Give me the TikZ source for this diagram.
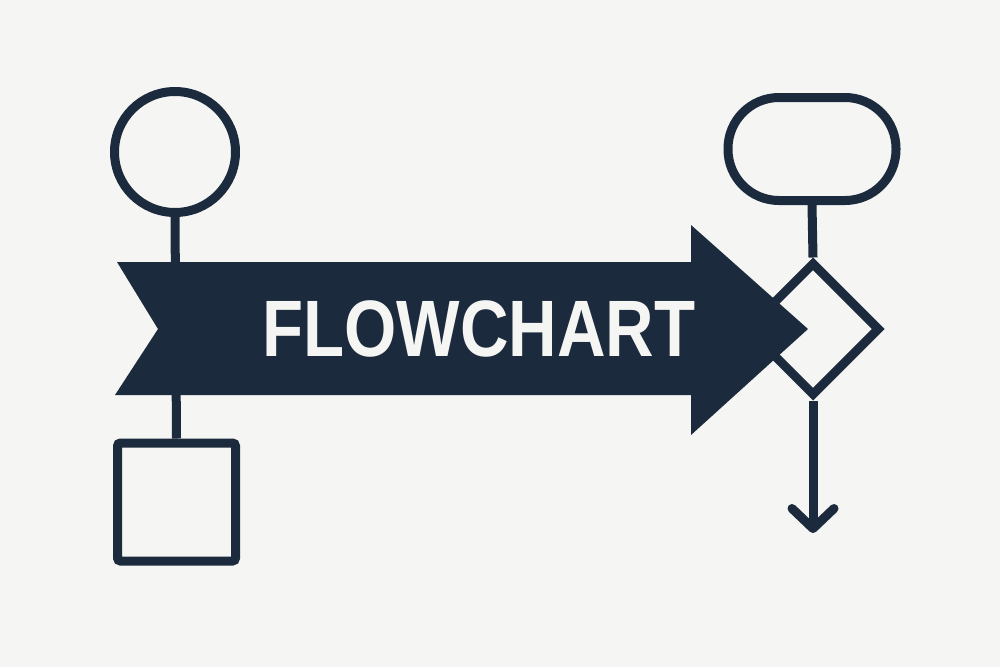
\documentclass[tikz,border=0pt]{standalone}
\usepackage{fontspec}
\setmainfont{Liberation Sans}
\usetikzlibrary{shapes.geometric,arrows.meta}
\definecolor{navy}{HTML}{1B2A3C}
\definecolor{paper}{HTML}{F5F5F3}
\begin{document}
\begin{tikzpicture}[x=1pt,y=-1pt,
  outline/.style={draw=navy,line width=9pt,fill=paper,inner sep=0pt},
  stem/.style={draw=navy,line width=9pt},
  banner/.style={fill=navy},
  title/.style={text=paper,inner sep=0pt,font=\fontsize{80}{80}\selectfont\bfseries}]
\fill[paper] (0,0) rectangle (1000,667);
\useasboundingbox (0,0) rectangle (1000,667);
% nodes
\node[outline,circle,minimum size=121pt] (circ) at (175,152) {};
\node[outline,rectangle,rounded corners=3pt,minimum size=118pt] (sq) at (176.5,502) {};
\node[outline,rectangle,rounded corners=51pt,minimum width=168pt,minimum height=103pt] (term) at (812,149) {};
\node[outline,diamond,minimum size=134pt] (dec) at (813,329) {};
\coordinate (out) at (813,533);
% connectors
\draw[stem] (circ.south) -- (sq.north);
\draw[stem] (term.south) -- (dec.north);
\draw[stem,-{Straight Barb[length=20pt,width=42pt,round]}] (dec.south) -- (out);
% banner arrow
\fill[banner] (117,262) coordinate (b1) -- (691,262) -- (691,225) -- (808,329) coordinate (tip)
  -- (691,435) -- (691,395) -- (115,395) -- (158,329) -- cycle;
\node[title,anchor=base] (lbl) at (479,356) {\scalebox{0.84}[1]{FLOWCHART}};
\end{tikzpicture}
\end{document}
